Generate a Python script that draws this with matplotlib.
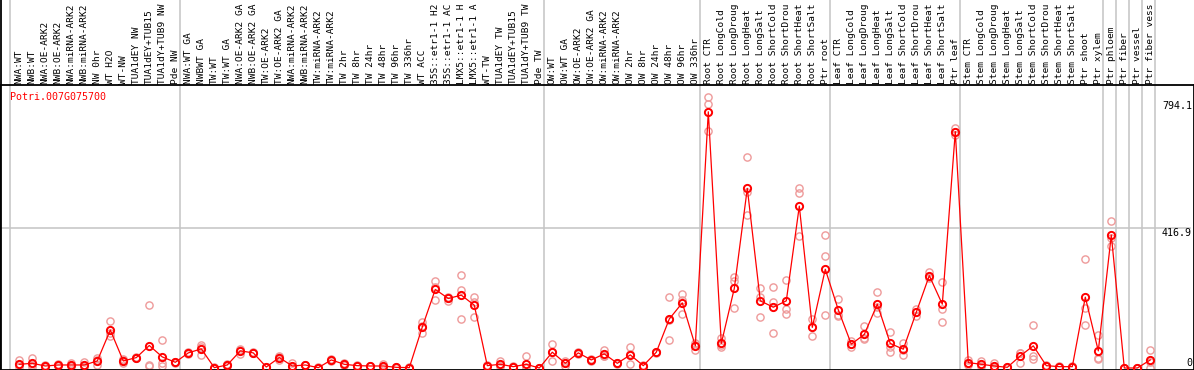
import matplotlib
matplotlib.use("Agg")
import matplotlib.pyplot as plt
from matplotlib.transforms import blended_transform_factory
from matplotlib.lines import Line2D

# ---------------- data ----------------
gene = "Potri.007G075700"

samples = [
    "NWA:WT", "NWB:WT", "NWA:OE-ARK2", "NWB:OE-ARK2", "NWA:miRNA-ARK2", "NWB:miRNA-ARK2",
    "NW 0hr", "WT H2O", "WT-NW", "TUA1dEY NW", "TUA1dEY+TUB15", "TUA1dY+TUB9 NW", "Pde NW",
    "NWA:WT GA", "NWBWT GA", "TW:WT", "TW:WT GA", "NWA:OE-ARK2 GA", "NWB:OE-ARK2 GA",
    "TW:OE-ARK2", "TW:OE-ARK2 GA", "NWA:miRNA-ARK2", "NWB:miRNA-ARK2", "TW:miRNA-ARK2",
    "TW:miRNA-ARK2", "TW 2hr", "TW 8hr", "TW 24hr", "TW 48hr", "TW 96hr", "TW 336hr",
    "WT ACC", "35S::etr1-1 H2", "35S::etr1-1 AC", "LMX5::etr1-1 H", "LMX5::etr1-1 A",
    "WT-TW", "TUA1dEY TW", "TUA1dEY+TUB15", "TUA1dY+TUB9 TW", "Pde TW",
    "OW:WT", "OW:WT GA", "OW:OE-ARK2", "OW:OE-ARK2 GA", "OW:miRNA-ARK2", "OW:miRNA-ARK2",
    "OW 2hr", "OW 8hr", "OW 24hr", "OW 48hr", "OW 96hr", "OW 336hr",
    "Root CTR", "Root LongCold", "Root LongDroug", "Root LongHeat", "Root LongSalt",
    "Root ShortCold", "Root ShortDrou", "Root ShortHeat", "Root ShortSalt", "Ptr root",
    "Leaf CTR", "Leaf LongCold", "Leaf LongDroug", "Leaf LongHeat", "Leaf LongSalt",
    "Leaf ShortCold", "Leaf ShortDrou", "Leaf ShortHeat", "Leaf ShortSalt", "Ptr leaf",
    "Stem CTR", "Stem LongCold", "Stem LongDroug", "Stem LongHeat", "Stem LongSalt",
    "Stem ShortCold", "Stem ShortDrou", "Stem ShortHeat", "Stem ShortSalt", "Ptr shoot",
    "Ptr xylem", "Ptr phloem", "Ptr fiber", "Ptr vessel", "Ptr fiber vess",
]

mean_values = [
    11, 14, 6, 9, 9, 9, 21, 113, 21, 31, 67, 33, 17,
    45, 57, 1, 9, 51, 45, 3, 31, 6, 9, 1, 24, 11, 7, 6, 6, 2, 1,
    122, 234, 207, 217, 187, 7, 11, 4, 11, 0,
    47, 14, 45, 24, 42, 14, 39, 7, 47, 146, 194, 66,
    763, 73, 237, 535, 200, 181, 200, 482, 121, 294,
    173, 71, 100, 190, 73, 56, 166, 275, 190, 704,
    16, 11, 6, 2, 36, 66, 7, 4, 4, 211,
    51, 396, 0, 0, 24,
]

replicates = [
    [24, 8, 2], [31, 8, 4], [6, 3, 9], [9, 7, 11], [16, 6, 5], [19, 5, 4],
    [29, 9, 24], [140, 95, 104], [14, 26, 23], [31, 29, 33], [188, 6, 8], [83, 16, 6],
    [17, 15, 19],
    [45, 43, 47], [68, 39, 64], [1, 0, 2], [9, 7, 11], [42, 56, 55], [45, 44, 47],
    [3, 2, 4], [24, 35, 34], [14, 2, 2], [9, 8, 10], [1, 0, 2], [24, 22, 26],
    [16, 9, 8], [7, 6, 8], [6, 5, 7], [11, 4, 3], [2, 1, 3], [1, 0, 2],
    [138, 103, 125], [259, 202, 241], [200, 212, 209], [277, 232, 146], [212, 151, 198],
    [7, 5, 9], [21, 6, 6], [4, 3, 5], [36, 2, 0], [0, 0, 1],
    [71, 21, 49], [6, 20, 16], [45, 43, 47], [24, 21, 27], [54, 35, 37], [14, 13, 15],
    [63, 12, 42], [7, 5, 9], [47, 45, 49], [211, 83, 144], [219, 161, 202], [54, 75, 69],
    [806, 786, 706], [88, 63, 68], [272, 259, 178], [627, 525, 456], [237, 212, 151],
    [240, 197, 103], [262, 175, 161], [535, 520, 393], [145, 96, 122], [396, 333, 158],
    [205, 155, 159], [80, 62, 71], [125, 85, 90], [227, 163, 181], [108, 49, 62],
    [75, 39, 54], [175, 155, 168], [287, 270, 268], [255, 175, 136], [714, 694, 704],
    [24, 8, 16], [21, 6, 6], [16, 1, 1], [2, 1, 3], [46, 16, 46],
    [128, 36, 26], [7, 5, 9], [4, 3, 5], [4, 3, 5], [324, 178, 128],
    [98, 26, 29], [438, 386, 363], [0, 0, 0], [0, 0, 0], [54, 0, 18],
]

# index of last sample in each group (0-based)
group_ends = [12, 40, 52, 62, 72, 83, 84, 85, 86, 87]
y_ticks = [794.1, 416.9]

# ---------------- figure ----------------
W, H = 1194, 370
fig = plt.figure(figsize=(W / 100, H / 100), dpi=100)
top_px = 85
ax = fig.add_axes([0, 0, 1, (H - top_px) / H])

x0_px, step_px = 19.3, 13.0
ax.set_xlim(-x0_px / step_px, (W - x0_px) / step_px)
zero_px, scale = 368.0, 0.3358
ax.set_ylim(-(H - zero_px) / scale, (zero_px - top_px) / scale)
ax.set_xticks([])
ax.set_yticks([])
for s in ax.spines.values():
    s.set_color("black")
    s.set_linewidth(1.3)

grid_c = "#c4c4c4"
vext = H / (H - top_px)
ax.axvline(-0.68, ymin=0, ymax=vext, color=grid_c, lw=1.1, clip_on=False, zorder=1)
for g in group_ends:
    ax.axvline(g + 0.38, ymin=0, ymax=vext, color=grid_c, lw=1.1, clip_on=False, zorder=1)
ax.axhline(y_ticks[1], xmin=0, xmax=1190 / W, color=grid_c, lw=1.1, zorder=1)

# left border through label area
fig.add_artist(Line2D([0.8 / W, 0.8 / W], [0, 1], transform=fig.transFigure,
                      color="black", lw=1.3))

xs = list(range(len(samples)))
rx, ry = [], []
for i, reps in enumerate(replicates):
    for v in reps:
        rx.append(i)
        ry.append(v)
ax.plot(rx, ry, linestyle="none", marker="o", ms=5.2, mfc="none",
        mec="#ee9a9a", mew=1.0, zorder=2, clip_on=False)
ax.plot(xs, mean_values, color="red", lw=0.9, zorder=3, clip_on=False)
ax.plot(xs, mean_values, linestyle="none", marker="o", ms=5.2, mfc="none",
        mec="red", mew=1.4, zorder=4, clip_on=False)

mono = "DejaVu Sans Mono"
trans = blended_transform_factory(ax.transData, ax.transAxes)
for i, lab in enumerate(samples):
    ax.text(i, 1 + 1.5 / (H - top_px), lab, rotation=90, ha="center", va="bottom",
            fontsize=6.8, family=mono, transform=trans, clip_on=False)

ax.text(10 / W, (zero_px - 97) / scale, gene, transform=blended_transform_factory(ax.transAxes, ax.transData),
        color="red", fontsize=7.2, family=mono, ha="left", va="center")

tr2 = blended_transform_factory(ax.transAxes, ax.transData)
for v in y_ticks:
    ax.text(1192 / W, v, f"{v}", transform=tr2, ha="right", va="top",
            fontsize=7.2, family=mono)
ax.text(1192 / W, 0, "0", transform=tr2, ha="right", va="bottom",
        fontsize=7.2, family=mono)

fig.savefig("out.png", dpi=100)
